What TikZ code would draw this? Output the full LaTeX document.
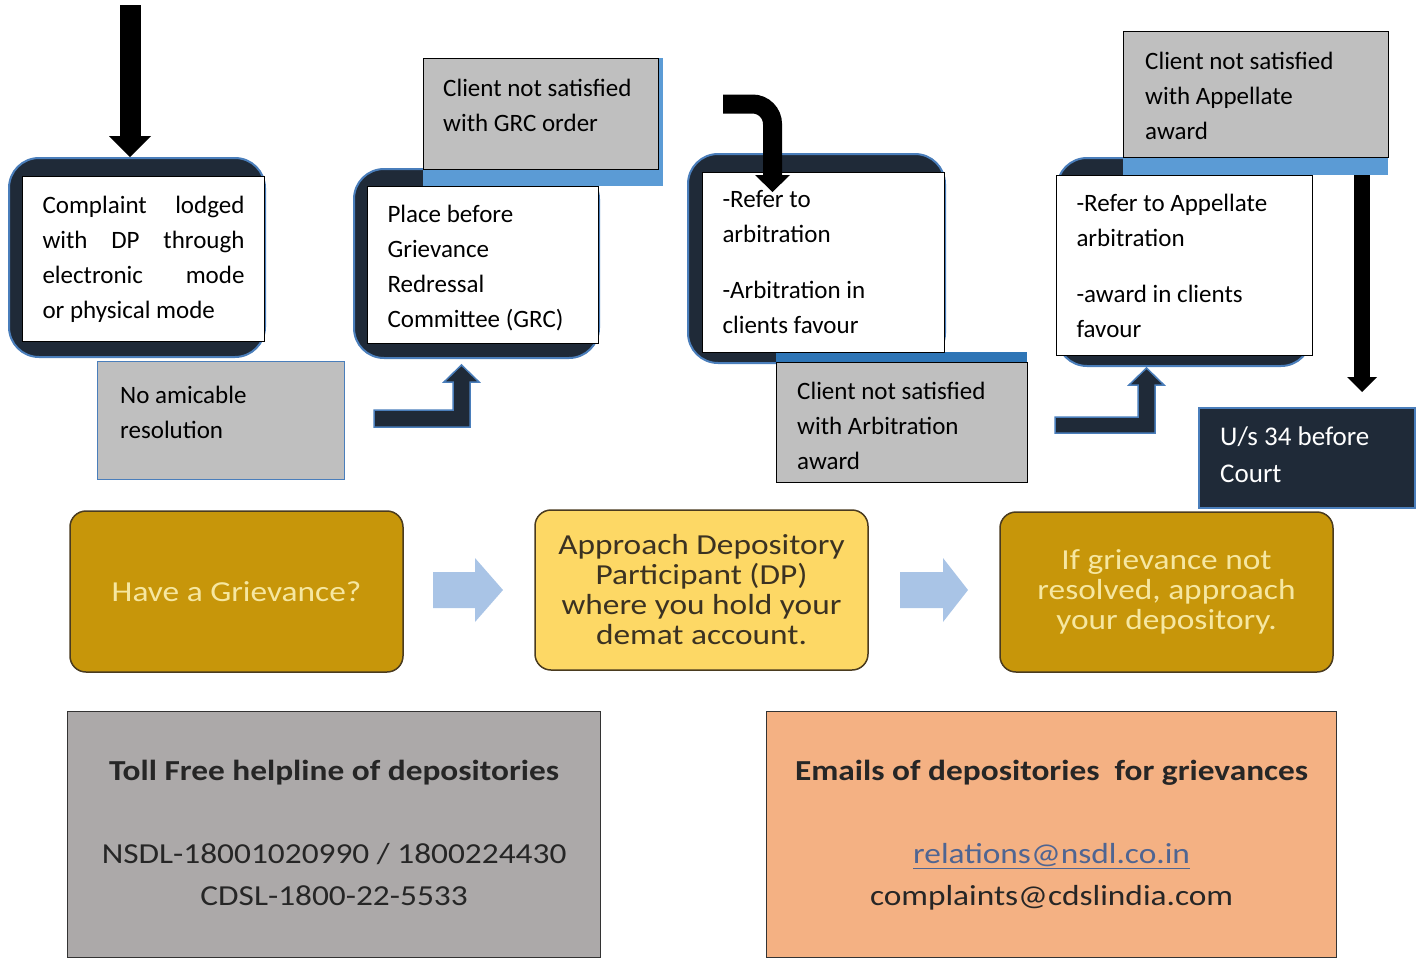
\documentclass[tikz,border=0pt]{standalone}
\usepackage{fontspec}
\setmainfont{Carlito}
\newfontfamily\widefont[FakeStretch=1.15]{Carlito}
\usetikzlibrary{positioning,arrows.meta}

\definecolor{navy}{HTML}{1F2A38}
\definecolor{edgeblue}{HTML}{4A7EBB}
\definecolor{stripblue}{HTML}{5B9BD5}
\definecolor{stripdark}{HTML}{2E75B6}
\definecolor{notegray}{HTML}{BFBFBF}
\definecolor{gold}{HTML}{C7960A}
\definecolor{lightgold}{HTML}{FDD865}
\definecolor{goldtext}{HTML}{F6E7A1}
\definecolor{darktext}{HTML}{3B3222}
\definecolor{brownedge}{HTML}{4A3B1F}
\definecolor{paleblue}{HTML}{A9C4E6}
\definecolor{helpgray}{HTML}{ACA9A9}
\definecolor{peach}{HTML}{F4B183}
\definecolor{linkblue}{HTML}{4F6592}

\newcommand\stagefont{\fontsize{25}{35}\selectfont}
\newcommand\midfont{\widefont\fontsize{29}{30}\selectfont}
\newcommand\infofont{\widefont\fontsize{29}{42}\selectfont}

\begin{document}
\begin{tikzpicture}[x=1pt,y=-1pt,
    stagebg/.style={rectangle, rounded corners=30pt, fill=navy, draw=edgeblue, line width=2pt, anchor=north west, inner sep=0pt},
    stagebox/.style={rectangle, fill=white, draw=black, line width=1pt, anchor=north west, inner xsep=20pt, inner ysep=0pt, align=flush left, font=\stagefont},
    notebox/.style={rectangle, fill=notegray, draw=black, line width=1.2pt, anchor=north west, inner sep=0pt},
    stripbox/.style={rectangle, fill=stripblue, anchor=north west, inner sep=0pt},
    notetext/.style={anchor=north west, inner sep=0pt, align=left, font=\stagefont},
    bentarrow/.style={fill=navy, draw=edgeblue, line width=1.5pt},
    bigarrow/.style={draw=black, line width=21pt, -{Triangle[length=21pt 0 0, width=42pt 0 0, line width=0pt 0 0]}},
    curvearrow/.style={draw=black, line width=19pt, rounded corners=20pt, -{Triangle[length=17pt 0 0, width=35pt 0 0, line width=0pt 0 0]}},
    thinarrow/.style={draw=black, line width=16pt, -{Triangle[length=15pt 0 0, width=30pt 0 0, line width=0pt 0 0]}},
    goldbox/.style={rectangle, rounded corners=16pt, fill=gold, draw=brownedge, line width=1.5pt, font=\midfont, text=goldtext, align=center},
    infobox/.style={rectangle, draw=black!80, line width=1.2pt, anchor=north west, inner sep=0pt},
    infotext/.style={anchor=north, inner sep=0pt, align=center, font=\infofont, text=black!85}]

  \useasboundingbox (0,0) rectangle (1419,959);

  % dark stage backgrounds
  \node (bg1) [stagebg, minimum width=256pt, minimum height=199pt] at (8,157) {};
  \node (bg2) [stagebg, minimum width=245pt, minimum height=189pt] at (353,168) {};
  \node (bg3) [stagebg, minimum width=257pt, minimum height=209pt] at (687,153) {};
  \node (bg4) [stagebg, minimum width=254pt, minimum height=208pt] at (1056,157) {};

  % notes between the stages
  \node (n1) [notebox, draw=edgeblue, minimum width=247pt, minimum height=118pt] at (97,361) {};
  \node (t1) [notetext, below right=25pt and 23pt of n1.north west] {No amicable\\resolution};

  \node (s2) [stripbox, minimum width=240pt, minimum height=128pt] at (423,58) {};
  \node (n2) [notebox, minimum width=235pt, minimum height=111pt] at (423,58) {};
  \node (t2) [notetext, below right=21pt and 20pt of n2.north west] {Client not satisfied\\with GRC order};

  \node (s3) [stripbox, fill=stripdark, minimum width=251pt, minimum height=10pt] at (776,352) {};
  \node (n3) [notebox, minimum width=251pt, minimum height=120pt] at (776,362) {};
  \node (t3) [notetext, below right=20pt and 21pt of n3.north west] {Client not satisfied\\with Arbitration\\award};

  \node (s4) [stripbox, minimum width=265pt, minimum height=144pt] at (1123,31) {};
  \node (n4) [notebox, minimum width=265pt, minimum height=126pt] at (1123,31) {};
  \node (t4) [notetext, below right=21pt and 22pt of n4.north west] {Client not satisfied\\with Appellate\\award};

  \node (court) [notebox, fill=navy, draw=edgeblue, line width=2pt, minimum width=216pt, minimum height=100pt] at (1198,407) {};
  \node (t5) [notetext, text=white, font=\fontsize{27}{37}\selectfont, below right=20pt and 22pt of court.north west] {U/s 34 before\\Court};

  % white stage boxes
  \node (p1) [stagebox, text width=202pt, minimum height=165pt] at (22,176)
    {Complaint\hfill lodged\\with\hfill DP\hfill through\\electronic\hfill mode\\or physical mode};
  \node (p2) [stagebox, text width=191pt, minimum height=157pt] at (367,186)
    {\rule{0pt}{24pt}Place before\\Grievance\\Redressal\\Committee (GRC)};
  \node (p3) [stagebox, text width=202pt, minimum height=180pt] at (702,172)
    {-Refer to\\arbitration\\[21pt]-Arbitration in\\clients favour};
  \node (p4) [stagebox, text width=216pt, minimum height=180pt] at (1056,175)
    {-Refer to Appellate\\arbitration\\[21pt]-award in clients\\favour};

  % bent arrows
  \filldraw[bentarrow] (374,410) -- (453,410) -- (453,382) -- (444,382) -- (461.5,365)
    -- (479,382) -- (470,382) -- (470,427) -- (374,427) -- cycle;
  \filldraw[bentarrow] (1055,417) -- (1138,417) -- (1138,385) -- (1129,385) -- (1146.5,368)
    -- (1164,385) -- (1155,385) -- (1155,433) -- (1055,433) -- cycle;

  % black arrows
  \coordinate (a0) at (130,5);
  \draw[bigarrow] (a0) -- (a0 |- bg1.north);
  \coordinate (a3) at (723,104);
  \coordinate (a3end) at (772.5,192);
  \draw[curvearrow] (a3) -| (a3end);
  \coordinate (a5) at (1362,392);
  \draw[thinarrow] (s4.south -| a5) -- (a5);

  % middle row
  \node (g1) [goldbox, minimum width=333pt, minimum height=161pt] at (236.5,591.5) {Have a Grievance?};
  \node (g2) [goldbox, fill=lightgold, text=darktext, minimum width=333pt, minimum height=160pt] at (701.5,590)
    {Approach Depository\\Participant (DP)\\where you hold your\\demat account.};
  \node (g3) [goldbox, minimum width=333pt, minimum height=160pt] at (1166.5,592)
    {If grievance not\\resolved, approach\\your depository.};
  \fill[paleblue] (433,572) -- (475,572) -- (475,558) -- (503,590) -- (475,622) -- (475,608) -- (433,608) -- cycle;
  \fill[paleblue] (900,572) -- (943,572) -- (943,558) -- (968,590) -- (943,622) -- (943,608) -- (900,608) -- cycle;

  % contact boxes
  \node (b1) [infobox, fill=helpgray, minimum width=533pt, minimum height=246pt] at (67,711) {};
  \node (i1) [infotext, below=49pt of b1.north]
    {{\bfseries Toll Free helpline of depositories}\\[41pt]NSDL-18001020990 / 1800224430\\CDSL-1800-22-5533};
  \node (b2) [infobox, fill=peach, minimum width=570pt, minimum height=246pt] at (766,711) {};
  \node (i2) [infotext, below=49pt of b2.north]
    {{\bfseries Emails of depositories\ \ for grievances}\\[41pt]\textcolor{linkblue}{\underline{relations@nsdl.co.in}}\\complaints@cdslindia.com};
\end{tikzpicture}
\end{document}
